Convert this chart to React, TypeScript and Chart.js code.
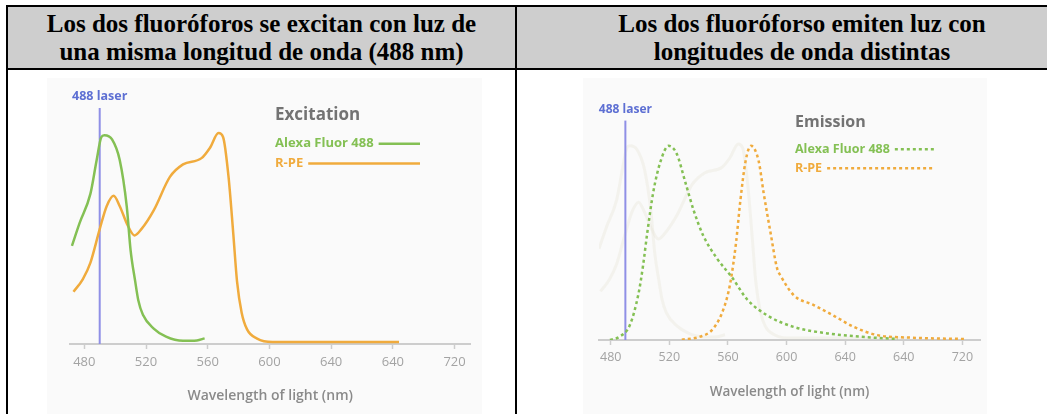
import React, { useEffect, useRef } from "react";
import { Chart, registerables } from "chart.js";

Chart.register(...registerables);

// ---------- data ----------
const xTickValues = [480, 520, 560, 600, 640, 680, 720];
const xTickLabels = ["480", "520", "560", "600", "640", "640", "720"];
const laserWavelength = 490;
const laserTop = 1.13;

// Excitation spectra (left panel)
const alexaExWl = [472, 477, 484, 488, 491, 493, 498, 503, 507.5, 510, 513, 515, 518, 525, 533, 544, 553, 558];
const alexaExVal = [0.47, 0.58, 0.72, 0.88, 0.99, 1.0, 0.98, 0.88, 0.66, 0.45, 0.3, 0.21, 0.14, 0.074, 0.035, 0.015, 0.017, 0.027];

const rpeExWl = [473, 479, 484, 490, 494.5, 499, 503, 508, 512.5, 517, 525, 535.5, 544, 556, 561.5, 567, 570, 573.5, 576.5, 579, 582, 585.5, 592, 602, 684];
const rpeExVal = [0.25, 0.31, 0.39, 0.55, 0.66, 0.71, 0.66, 0.57, 0.52, 0.55, 0.64, 0.8, 0.86, 0.89, 0.94, 1.01, 0.99, 0.8, 0.535, 0.3, 0.15, 0.07, 0.026, 0.01, 0.01];

// Emission spectra (right panel)
const alexaEmWl = [479.5, 486, 493, 499, 502, 505, 509, 514, 519.5, 525, 531, 536.5, 543, 552.5, 563, 573, 587, 605, 628, 650, 676];
const alexaEmVal = [0, 0.017, 0.076, 0.24, 0.38, 0.555, 0.76, 0.92, 1.0, 0.96, 0.81, 0.67, 0.54, 0.42, 0.32, 0.21, 0.126, 0.067, 0.034, 0.017, 0.005];

const rpeEmWl = [528.5, 541, 550, 557, 561.5, 565.5, 568.5, 572, 575.7, 581, 584.3, 589, 593.5, 596, 605, 618.5, 632, 646, 662, 685, 723];
const rpeEmVal = [0.002, 0.017, 0.059, 0.16, 0.29, 0.5, 0.72, 0.92, 1.0, 0.92, 0.76, 0.555, 0.37, 0.33, 0.23, 0.18, 0.126, 0.067, 0.025, 0.012, 0.005];

const headerLeft = ["Los dos fluoróforos se excitan con luz de", "una misma longitud de onda (488 nm)"];
const headerRight = ["Los dos fluoróforso emiten luz con", "longitudes de onda distintas"];

// ---------- styles ----------
const GREEN = "#84c054";
const ORANGE = "#f0ab3d";
const LASER = "#8f8fe6";
const LASER_TEXT = "#5d6fd3";
const GHOST = "rgba(226,222,204,0.28)";
const FONT = '"Open Sans", "Noto Sans", sans-serif';

const toPoints = (wl: number[], v: number[]) => wl.map((w, i) => ({ x: w, y: v[i] }));

const overlayPlugin = {
  id: "overlay",
  afterDatasetsDraw(chart: any, _args: any, opts: any) {
    const { ctx, chartArea, scales } = chart;
    const x = scales.x;
    const y = scales.y;
    ctx.save();
    // laser label
    ctx.font = `700 ${opts.laserFont}px ${FONT}`;
    ctx.fillStyle = LASER_TEXT;
    ctx.textAlign = "center";
    ctx.textBaseline = "middle";
    ctx.fillText("488 laser", x.getPixelForValue(laserWavelength), y.getPixelForValue(laserTop) - 11.5);
    // legend title
    ctx.font = `700 ${opts.titleSize}px ${FONT}`;
    ctx.fillStyle = "#737373";
    ctx.textAlign = "left";
    ctx.textBaseline = "alphabetic";
    ctx.fillText(opts.title, chartArea.left + opts.lx, chartArea.top + opts.ty);
    // entries
    opts.entries.forEach((e: any) => {
      ctx.font = `700 ${opts.entrySize}px ${FONT}`;
      ctx.fillStyle = e.color;
      ctx.textBaseline = "middle";
      const tx = chartArea.left + opts.lx;
      const ty = chartArea.top + e.dy;
      ctx.fillText(e.label, tx, ty);
      const w = ctx.measureText(e.label).width;
      ctx.beginPath();
      ctx.strokeStyle = e.color;
      ctx.lineWidth = 2.5;
      ctx.setLineDash(e.dash);
      ctx.moveTo(tx + w + 5, ty);
      ctx.lineTo(chartArea.left + opts.lineEnd, ty);
      ctx.stroke();
    });
    ctx.restore();
  },
};

function makeOptions(p: any) {
  return {
    responsive: false,
    animation: false as const,
    layout: { padding: p.padding },
    plugins: {
      legend: { display: false },
      tooltip: { enabled: false },
      overlay: p.overlay,
    },
    elements: { point: { radius: 0 } },
    scales: {
      x: {
        type: "linear" as const,
        min: p.xMin,
        max: p.xMax,
        afterBuildTicks: (scale: any) => {
          scale.ticks = xTickValues.map((v) => ({ value: v }));
        },
        ticks: {
          autoSkip: false,
          maxRotation: 0,
          padding: 5,
          color: "#a3a3a3",
          font: { family: FONT, size: p.tickSize },
          callback: (v: any) => {
            const i = xTickValues.indexOf(Number(v));
            return i >= 0 ? xTickLabels[i] : "";
          },
        },
        grid: { display: true, drawOnChartArea: false, drawTicks: true, tickLength: 5, tickWidth: 1.5, tickColor: "#cdcdcd" },
        border: { display: true, color: "#cdcdcd", width: 2 },
        title: {
          display: true,
          text: "Wavelength of light (nm)",
          color: "#8a8a8a",
          font: { family: FONT, size: p.titleSize, weight: 600 as any },
          padding: { top: p.titlePadTop, bottom: 4 },
        },
      },
      y: { type: "linear" as const, display: false, min: 0, max: 1.2 },
    },
  };
}

function ExcitationChart() {
  const ref = useRef<HTMLCanvasElement>(null);
  useEffect(() => {
    if (!ref.current) return;
    const chart = new Chart(ref.current, {
      type: "line",
      data: {
        datasets: [
          { data: toPoints(alexaExWl, alexaExVal), borderColor: GREEN, borderWidth: 2.5, cubicInterpolationMode: "monotone", fill: false },
          { data: toPoints(rpeExWl, rpeExVal), borderColor: ORANGE, borderWidth: 2.5, cubicInterpolationMode: "monotone", fill: false },
          { data: [{ x: laserWavelength, y: 0 }, { x: laserWavelength, y: laserTop }], borderColor: LASER, borderWidth: 2, tension: 0, fill: false },
        ] as any,
      },
      options: makeOptions({
        padding: { left: 30.4, right: 20, top: 15.4, bottom: 5.2 },
        xMin: 471,
        xMax: 730,
        tickSize: 13,
        titleSize: 14,
        titlePadTop: 13.4,
        overlay: {
          laserFont: 12.5,
          title: "Excitation",
          titleSize: 17,
          entrySize: 13,
          lx: 204.6,
          ty: 26.6,
          lineEnd: 349.6,
          entries: [
            { label: "Alexa Fluor 488", color: GREEN, dy: 50.3, dash: [] },
            { label: "R-PE", color: ORANGE, dy: 70.1, dash: [] },
          ],
        },
      }) as any,
      plugins: [overlayPlugin],
    });
    return () => chart.destroy();
  }, []);
  return <canvas ref={ref} width={450} height={336} style={{ position: "absolute", left: 40, top: 78 }} />;
}

function EmissionChart() {
  const ref = useRef<HTMLCanvasElement>(null);
  useEffect(() => {
    if (!ref.current) return;
    const chart = new Chart(ref.current, {
      type: "line",
      data: {
        datasets: [
          { data: toPoints(alexaEmWl, alexaEmVal), borderColor: GREEN, borderWidth: 2.5, borderDash: [3, 3], cubicInterpolationMode: "monotone", fill: false },
          { data: toPoints(rpeEmWl, rpeEmVal), borderColor: ORANGE, borderWidth: 2.5, borderDash: [3, 3], cubicInterpolationMode: "monotone", fill: false },
          { data: [{ x: laserWavelength, y: 0 }, { x: laserWavelength, y: laserTop }], borderColor: LASER, borderWidth: 2, tension: 0, fill: false },
          { data: toPoints(alexaExWl, alexaExVal), borderColor: GHOST, borderWidth: 3, cubicInterpolationMode: "monotone", fill: false },
          { data: toPoints(rpeExWl, rpeExVal), borderColor: GHOST, borderWidth: 3, cubicInterpolationMode: "monotone", fill: false },
        ] as any,
      },
      options: makeOptions({
        padding: { left: 39, right: 20, top: 29, bottom: 10.2 },
        xMin: 472,
        xMax: 732,
        tickSize: 12.5,
        titleSize: 13.5,
        titlePadTop: 13.6,
        overlay: {
          laserFont: 12,
          title: "Emission",
          titleSize: 16,
          entrySize: 12.5,
          lx: 196,
          ty: 19.7,
          lineEnd: 335,
          entries: [
            { label: "Alexa Fluor 488", color: GREEN, dy: 42.3, dash: [3, 3] },
            { label: "R-PE", color: ORANGE, dy: 61.3, dash: [3, 3] },
          ],
        },
      }) as any,
      plugins: [overlayPlugin],
    });
    return () => chart.destroy();
  }, []);
  return <canvas ref={ref} width={440} height={336} style={{ position: "absolute", left: 560, top: 78 }} />;
}

const abs = (s: React.CSSProperties): React.CSSProperties => ({ position: "absolute", ...s });

function HeaderText({ lines, left, width }: { lines: string[]; left: number; width: number }) {
  return (
    <div
      style={abs({
        left,
        top: 7,
        width,
        height: 61,
        display: "flex",
        flexDirection: "column",
        justifyContent: "center",
        alignItems: "center",
        fontFamily: '"Liberation Serif", "Times New Roman", serif',
        fontWeight: 700,
        fontSize: 25,
        lineHeight: "28px",
        color: "#000",
        whiteSpace: "nowrap",
      })}
    >
      {lines.map((l, i) => (
        <div key={i}>{l}</div>
      ))}
    </div>
  );
}

export default function App() {
  return (
    <div style={{ position: "fixed", left: 0, top: 0, width: 1047, height: 414, overflow: "hidden", background: "#fff" }}>
      <div style={abs({ left: 8, top: 7, width: 1100, height: 61, background: "#cecece" })} />
      <div style={abs({ left: 47, top: 78, width: 435, height: 340, background: "#fafafa" })} />
      <div style={abs({ left: 583, top: 78, width: 404, height: 340, background: "#fafafa" })} />
      <HeaderText lines={headerLeft} left={8} width={507} />
      <HeaderText lines={headerRight} left={517} width={570} />
      <div style={abs({ left: 6, top: 5, width: 1100, height: 2, background: "#000" })} />
      <div style={abs({ left: 6, top: 68, width: 1100, height: 2, background: "#000" })} />
      <div style={abs({ left: 6, top: 5, width: 2, height: 420, background: "#000" })} />
      <div style={abs({ left: 515, top: 5, width: 2, height: 420, background: "#000" })} />
      <ExcitationChart />
      <EmissionChart />
    </div>
  );
}
